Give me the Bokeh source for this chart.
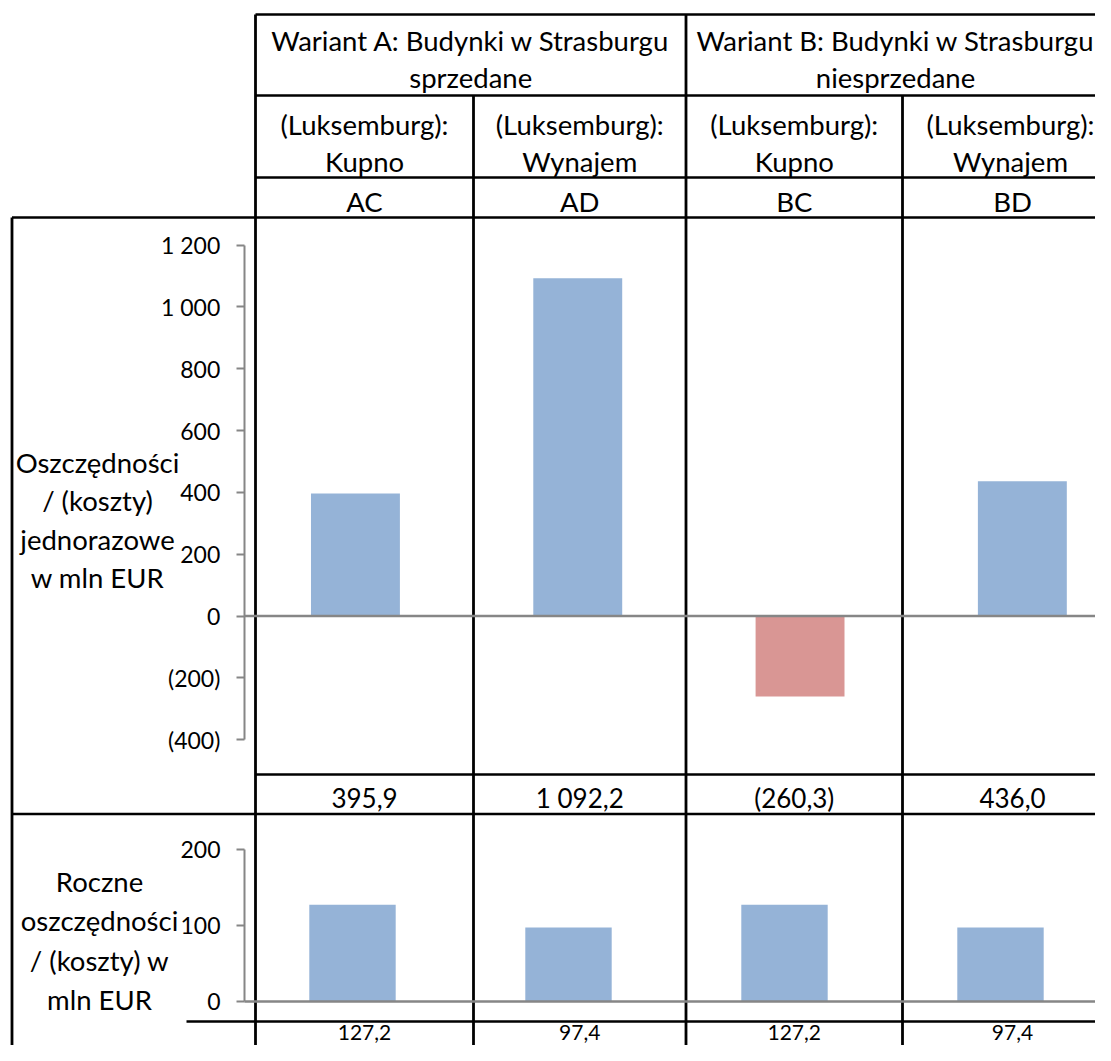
import numpy as np
from bokeh.plotting import figure
from bokeh.models import Range1d, LinearAxis, FixedTicker
from bokeh.core.properties import value
from bokeh.embed import file_html
from bokeh.resources import INLINE

# ---------------- data ----------------
categories = ["AC", "AD", "BC", "BD"]
variant_titles = ["Wariant A: Budynki w Strasburgu\nsprzedane",
                  "Wariant B: Budynki w Strasburgu\nniesprzedane"]
option_titles = ["(Luksemburg):\nKupno", "(Luksemburg):\nWynajem",
                 "(Luksemburg):\nKupno", "(Luksemburg):\nWynajem"]
one_off_values = [395.9, 1092.2, -260.3, 436.0]
annual_values = [127.2, 97.4, 127.2, 97.4]
one_off_ticks = [-400, -200, 0, 200, 400, 600, 800, 1000, 1200]
annual_ticks = [0, 100, 200]
one_off_title = "Oszczędności\n/ (koszty)\njednorazowe\nw mln EUR"
annual_title = "Roczne\noszczędności\n/ (koszty) w\nmln EUR"

# ---------------- styles ----------------
FONT = "Lato"
FS_TEXT = "27.5px"
FS_VAL = "26px"
FS_VAL_LOW = "21px"
FS_TICK = "23px"
POS_COLOR = "#95B3D7"
NEG_COLOR = "#D99694"
GRID_BLACK = "#000000"
AXIS_GRAY = "#868686"


def fmt_num(v, decimals=1):
    s = f"{abs(v):,.{decimals}f}".replace(",", " ").replace(".", ",")
    return f"({s})" if v < 0 else s


# ---------------- layout (pixels from the figure's top-left) ----------------
W, H = 1095, 1045
X0, X1 = 0, W
Y0, Y1 = 0, H

COL_EDGES = [255, 473, 685.5, 902, 1122]
GROUP_EDGES = [255, 685.5, 1122]
LEFT_EDGE = 11.5
RIGHT_END = 1135
EDGE_PAD = 200  # keep right-most header text inside the picture

# upper chart geometry
UP_LEFT, UP_CAT = 243.8, 222.3
UP_ZERO, UP_K = 615.5, 371.0 / 1200.0
# lower chart geometry
LO_LEFT, LO_CAT = 244.0, 216.0
LO_ZERO, LO_K = 1001.0, 0.76

p = figure(width=W, height=H,
           x_range=Range1d(X0, X1), y_range=Range1d(Y1, Y0),
           output_backend="svg", toolbar_location=None,
           x_axis_type=None, y_axis_type=None, min_border=0,
           outline_line_color=None, background_fill_color="white",
           border_fill_color="white")

p.extra_x_ranges = {
    "up": Range1d((X0 - UP_LEFT) / UP_CAT, (X1 - UP_LEFT) / UP_CAT),
    "low": Range1d((X0 - LO_LEFT) / LO_CAT, (X1 - LO_LEFT) / LO_CAT),
}
p.extra_y_ranges = {
    "up": Range1d(-(Y1 - UP_ZERO) / UP_K, (UP_ZERO - Y0) / UP_K),
    "low": Range1d(-(Y1 - LO_ZERO) / LO_K, (LO_ZERO - Y0) / LO_K),
}

# ---------------- table lines ----------------
h_lines = [  # (y, x_start)
    (14, COL_EDGES[0]), (95, COL_EDGES[0]), (177, COL_EDGES[0]),
    (217, LEFT_EDGE), (774, COL_EDGES[0]), (813.5, LEFT_EDGE), (1021, 186),
]
p.segment(x0=[h[1] for h in h_lines], y0=[h[0] for h in h_lines],
          x1=[RIGHT_END] * len(h_lines), y1=[h[0] for h in h_lines],
          line_color=GRID_BLACK, line_width=2.6)
v_lines = [  # (x, y_start)
    (LEFT_EDGE, 217), (COL_EDGES[0], 14), (COL_EDGES[1], 95),
    (COL_EDGES[2], 14), (COL_EDGES[3], 95),
]
p.segment(x0=[v[0] for v in v_lines], y0=[v[1] for v in v_lines],
          x1=[v[0] for v in v_lines], y1=[Y1 + 20] * len(v_lines),
          line_color=GRID_BLACK, line_width=2.8)

# ---------------- bars ----------------
xs = np.arange(len(categories)) + 0.5
p.vbar(x=xs, top=one_off_values, bottom=0, width=0.4,
       fill_color=[POS_COLOR if v >= 0 else NEG_COLOR for v in one_off_values],
       line_color=None, x_range_name="up", y_range_name="up")
p.vbar(x=xs, top=annual_values, bottom=0, width=0.4,
       fill_color=[POS_COLOR if v >= 0 else NEG_COLOR for v in annual_values],
       line_color=None, x_range_name="low", y_range_name="low")

# zero (category) lines
for rn in ("up", "low"):
    p.segment(x0=[0], y0=[0], x1=[len(categories)], y1=[0],
              line_color=AXIS_GRAY, line_width=2.6,
              x_range_name=rn, y_range_name=rn)

# ---------------- value axes ----------------
for rn, ticks in (("up", one_off_ticks), ("low", annual_ticks)):
    ax = LinearAxis(x_range_name=rn, y_range_name=rn, fixed_location=0,
                    bounds=(min(ticks), max(ticks)),
                    ticker=FixedTicker(ticks=ticks),
                    major_label_overrides={t: fmt_num(t, 0) for t in ticks})
    ax.axis_line_color = AXIS_GRAY
    ax.axis_line_width = 2
    ax.major_tick_line_color = AXIS_GRAY
    ax.major_tick_line_width = 2
    ax.major_tick_in = 0
    ax.major_tick_out = 8
    ax.minor_tick_line_color = None
    ax.major_label_standoff = 16
    ax.major_label_text_font = FONT
    ax.major_label_text_font_size = FS_TICK
    ax.major_label_text_color = "black"
    p.add_layout(ax, "left")


# ---------------- texts ----------------
def add_lines(items, spacing, size):
    tx, ty, tt = [], [], []
    for x, y, s in items:
        for i, line in enumerate(s.split("\n")):
            tx.append(x)
            ty.append(y + i * spacing)
            tt.append(line)
    p.text(x=tx, y=ty, text=tt, text_font=value(FONT),
           text_font_size=value(size), text_align="center",
           text_baseline="middle", text_color="black")


group_centers = [(GROUP_EDGES[i] + GROUP_EDGES[i + 1]) / 2 for i in range(2)]
group_centers = [min(c, X1 - EDGE_PAD) for c in group_centers]
col_centers = [(COL_EDGES[i] + COL_EDGES[i + 1]) / 2 for i in range(4)]
col_centers_hdr = [min(c, X1 - 85) for c in col_centers]

add_lines([(gx, 40, t) for gx, t in zip(group_centers, variant_titles)], 37, FS_TEXT)
add_lines([(cx, 124, t) for cx, t in zip(col_centers_hdr, option_titles)], 37, FS_TEXT)
add_lines([(cx, 201, t) for cx, t in zip(col_centers, categories)], 37, FS_TEXT)
add_lines([(cx, 797, fmt_num(v)) for cx, v in zip(col_centers, one_off_values)], 37, FS_VAL)
add_lines([(cx, 1032, fmt_num(v)) for cx, v in zip(col_centers, annual_values)], 37, FS_VAL_LOW)
add_lines([(97, 462, one_off_title)], 38.3, FS_TEXT)
add_lines([(99, 881, annual_title)], 39.3, FS_TEXT)

open("out.html", "w").write(file_html(p, INLINE))
